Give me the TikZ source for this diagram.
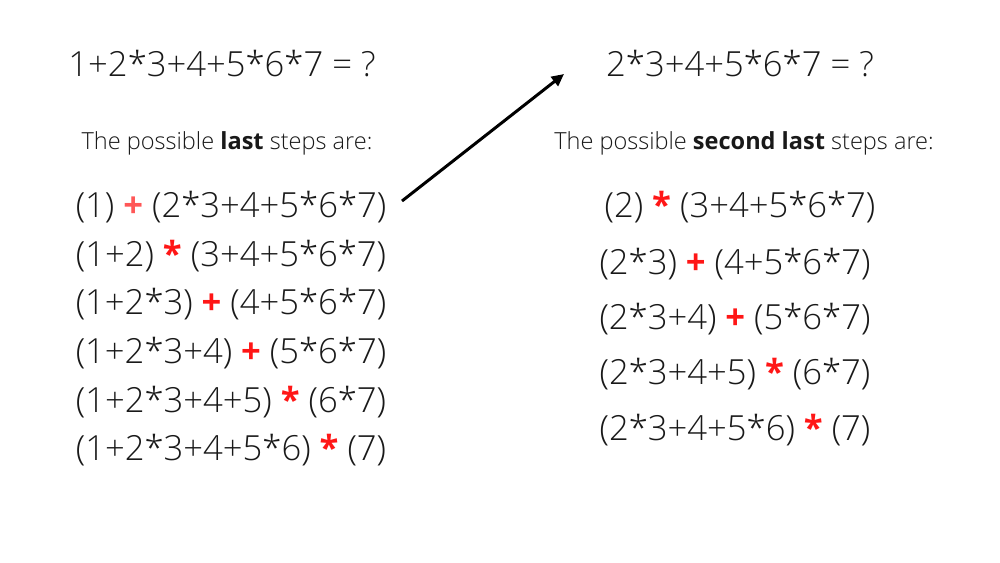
\documentclass[tikz,border=0pt]{standalone}
\usepackage{fontspec}
\setmainfont{Open Sans}[UprightFont=* Light, BoldFont=* Bold]
\usetikzlibrary{arrows.meta}
\definecolor{opred}{HTML}{FF1616}
\definecolor{oplight}{HTML}{FF5757}
\newcommand{\opr}[1]{\textcolor{opred}{\textbf{#1}}}
\newcommand{\opl}[1]{\textcolor{oplight}{\textbf{#1}}}
\begin{document}
\begin{tikzpicture}[x=0.02cm,y=-0.02cm,
  txt/.style={inner sep=0pt, anchor=base, text=black!90},
  title/.style={txt, font=\fontsize{19.7}{24}\selectfont},
  sub/.style={txt, font=\fontsize{13.4}{16}\selectfont},
  expr/.style={txt, font=\fontsize{19.7}{24}\selectfont}]
\useasboundingbox (0,0) rectangle (1000,562);
\node[title] (t1) at (222,76) {1+2*3+4+5*6*7 = ?};
\node[title] (t2) at (740,76) {2*3+4+5*6*7 = ?};
\node[sub] (s1) at (227,149) {The possible \textbf{last} steps are:};
\node[sub] (s2) at (744,149) {The possible \textbf{second last} steps are:};
\node[expr] (l1) at (231,217) {(1) \opl{+} (2*3+4+5*6*7)};
\node[expr] (l2) at (231,266) {(1+2) \opr{*} (3+4+5*6*7)};
\node[expr] (l3) at (231,314) {(1+2*3) \opr{+} (4+5*6*7)};
\node[expr] (l4) at (231,363) {(1+2*3+4) \opr{+} (5*6*7)};
\node[expr] (l5) at (231,412) {(1+2*3+4+5) \opr{*} (6*7)};
\node[expr] (l6) at (231,460) {(1+2*3+4+5*6) \opr{*} (7)};
\node[expr] (r1) at (740,217) {(2) \opr{*} (3+4+5*6*7)};
\node[expr] (r2) at (735,274) {(2*3) \opr{+} (4+5*6*7)};
\node[expr] (r3) at (735,329) {(2*3+4) \opr{+} (5*6*7)};
\node[expr] (r4) at (735,384) {(2*3+4+5) \opr{*} (6*7)};
\node[expr] (r5) at (735,440) {(2*3+4+5*6) \opr{*} (7)};
\coordinate (as) at (402,201);
\coordinate (ae) at (564,74);
\draw[line width=1.7pt, -{Triangle[length=7pt,width=6.5pt]}] (as) -- (ae);
\end{tikzpicture}
\end{document}
